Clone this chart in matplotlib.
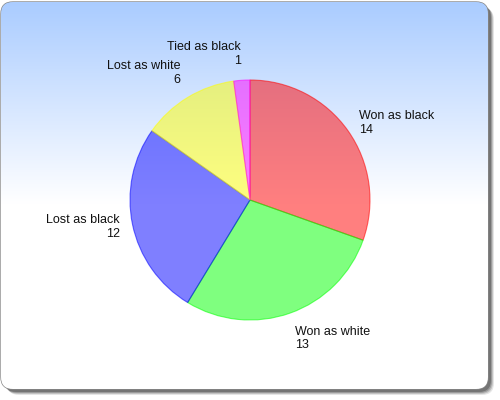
import numpy as np
import matplotlib
matplotlib.use('Agg')
import matplotlib.pyplot as plt
from matplotlib.patches import FancyBboxPatch

plt.rcParams['font.family'] = ['Liberation Sans', 'DejaVu Sans']

labels = ['Won as black', 'Won as white', 'Lost as black', 'Lost as white', 'Tied as black']
values = [14, 13, 12, 6, 1]
colors = ['#ff0000', '#00ff00', '#0000ff', '#ffff00', '#ff00ff']

fig = plt.figure(figsize=(5, 4), dpi=100)
ax = fig.add_axes([0, 0, 1, 1])

# shadow
for off, a in [(6, 0.10), (5, 0.15), (4, 0.2), (3, 0.25)]:
    sh = FancyBboxPatch((1 + off, 11 - off), 487, 387, boxstyle='round,pad=0,rounding_size=12',
                        facecolor='#000000', edgecolor='none', alpha=a, zorder=0)
    ax.add_patch(sh)

frame = FancyBboxPatch((1, 11), 487, 387, boxstyle='round,pad=0,rounding_size=12',
                       facecolor='white', edgecolor='#888888', linewidth=1, zorder=1)
ax.add_patch(frame)

# gradient background, light blue at top fading to white near middle
top = np.array([170, 204, 255]) / 255
t = np.clip(np.linspace(0, 1, 400) / 0.52, 0, 1)[:, None]
grad = top * (1 - t) + np.ones(3) * t
img = ax.imshow(grad[:, None, :].repeat(2, axis=1), extent=(1, 488, 11, 398),
                aspect='auto', zorder=2)
img.set_clip_path(frame)

face = [matplotlib.colors.to_rgba(c, 0.5) for c in colors]
edge = [matplotlib.colors.to_rgba(c, 0.55) for c in colors]
wedges, texts = ax.pie(values, labels=[f'{l}\n{v}' for l, v in zip(labels, values)],
                       colors=face, startangle=90, counterclock=False,
                       center=(250, 200), radius=120, labeldistance=1.11,
                       textprops={'fontsize': 9, 'color': '#111111'},
                       wedgeprops={'linewidth': 0.8}, frame=True)
for w, e in zip(wedges, edge):
    w.set_edgecolor(e)
    w.set_zorder(3)
for w, tx in zip(wedges, texts):
    ang = np.deg2rad((w.theta1 + w.theta2) / 2)
    s = np.sin(ang)
    if s > 0.75:
        tx.set_va('bottom')
    elif s < -0.75:
        tx.set_va('top')
    else:
        tx.set_va('center')
    tx.set_ha('left' if np.cos(ang) > 0 else 'right')
    tx.set_multialignment('left' if np.cos(ang) > 0 else 'right')
    tx.set_zorder(4)
ax.set_xlim(0, 500)
ax.set_ylim(0, 400)
ax.set_aspect('equal')
ax.axis('off')

fig.savefig('out.png', dpi=100)
